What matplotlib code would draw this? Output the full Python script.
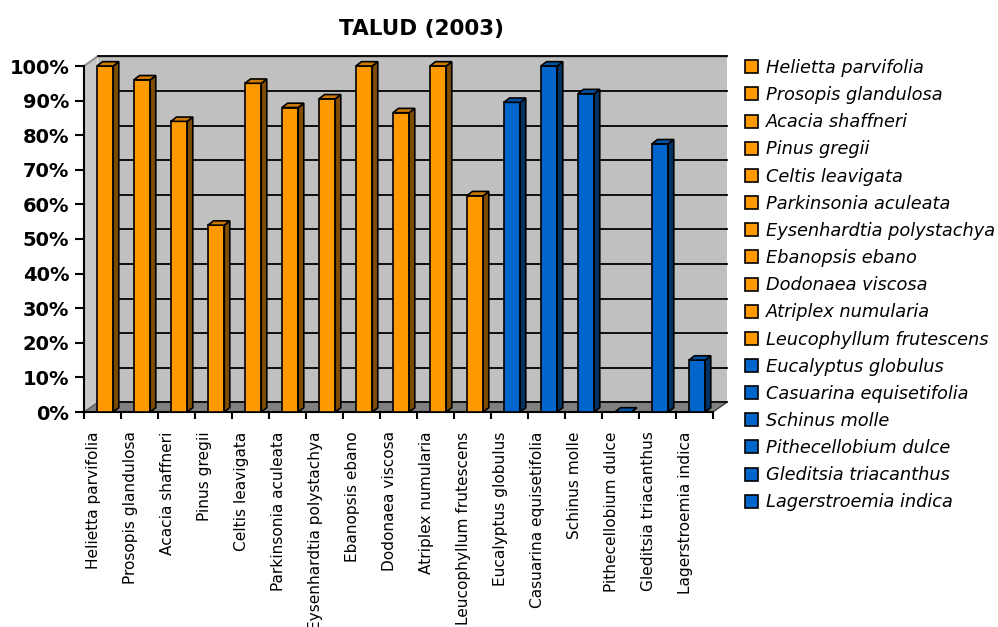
import numpy as np
import matplotlib.pyplot as plt
from matplotlib.patches import Polygon, Patch

# species and survival (%) on the slope plots
species = ['Helietta parvifolia', 'Prosopis glandulosa', 'Acacia shaffneri',
           'Pinus gregii', 'Celtis leavigata', 'Parkinsonia aculeata',
           'Eysenhardtia polystachya', 'Ebanopsis ebano', 'Dodonaea viscosa',
           'Atriplex numularia', 'Leucophyllum frutescens', 'Eucalyptus globulus',
           'Casuarina equisetifolia', 'Schinus molle', 'Pithecellobium dulce',
           'Gleditsia triacanthus', 'Lagerstroemia indica']
survival = [100, 96, 84, 54, 95, 88, 90.5, 100, 86.5, 100, 62.5,
            89.5, 100, 92, 0, 77.5, 15]
groups = ['native'] * 11 + ['exotic'] * 6

colors = {'native': ('#FF9900', '#7F4C00', '#CC7A00'),
          'exotic': ('#0066CC', '#003366', '#0052A3')}

fig = plt.figure(figsize=(9.98, 6.27), dpi=100)
ax = fig.add_axes([84 / 998, 1 - 412 / 627, 629 / 998, 346 / 627])

n = len(species)
x = np.arange(n)
vals = np.array(survival) / 100.0

# fake 3D depth of the walls and bars (in data units)
wdx, wdy = 0.365, 0.0275
bdx, bdy = 0.15, 0.0125
x0, x1 = -0.5, n - 0.5

# back wall, side wall, floor
ax.add_patch(Polygon([(x0 + wdx, wdy), (x1 + wdx, wdy), (x1 + wdx, 1 + wdy), (x0 + wdx, 1 + wdy)],
                     closed=True, facecolor='#C0C0C0', edgecolor='none', zorder=0, clip_on=False))
ax.add_patch(Polygon([(x0, 0), (x0 + wdx, wdy), (x0 + wdx, 1 + wdy), (x0, 1)],
                     closed=True, facecolor='#C8C8C8', edgecolor='none', zorder=0, clip_on=False))
ax.add_patch(Polygon([(x0, 0), (x1, 0), (x1 + wdx, wdy), (x0 + wdx, wdy)],
                     closed=True, facecolor='#808080', edgecolor='none', zorder=0.5, clip_on=False))
ax.plot([x0, x0 + wdx, x1 + wdx], [1, 1 + wdy, 1 + wdy], color='#909090', lw=1.5,
        zorder=0.6, clip_on=False)
ax.plot([x1, x1 + wdx], [0, wdy], color='#404040', lw=1.0, zorder=0.6, clip_on=False)
ax.plot([x0, x0 + wdx], [0, wdy], color='#606060', lw=1.0, zorder=0.6, clip_on=False)

# gridlines on the back wall
for g in np.arange(0, 1.01, 0.1):
    ax.plot([x0 + wdx, x1 + wdx], [g + wdy, g + wdy], color='black', lw=1.3,
            zorder=1, clip_on=False)

# bars: front face, side face, top face
bx = x + 0.07
bw = 0.44
for xi, v, grp in zip(bx, vals, groups):
    front, side, top = colors[grp]
    l, r = xi - bw / 2, xi + bw / 2
    ax.bar(xi, v, width=bw, color=front, edgecolor='black', lw=1.2, zorder=3, clip_on=False)
    ax.add_patch(Polygon([(r, 0), (r + bdx, bdy), (r + bdx, v + bdy), (r, v)],
                         closed=True, facecolor=side, edgecolor='black', lw=1.2,
                         zorder=3, clip_on=False))
    ax.add_patch(Polygon([(l, v), (r, v), (r + bdx, v + bdy), (l + bdx, v + bdy)],
                         closed=True, facecolor=top, edgecolor='black', lw=1.2,
                         zorder=3, clip_on=False))

ax.set_xlim(x0, x1)
ax.set_ylim(0, 1)
ax.set_facecolor('none')
for s in ['top', 'right']:
    ax.spines[s].set_visible(False)
ax.spines['left'].set_linewidth(1.5)
ax.spines['bottom'].set_linewidth(1.5)

yt = np.arange(0, 1.01, 0.1)
ax.set_yticks(yt)
ax.set_yticklabels([f'{int(round(t * 100))}%' for t in yt], fontsize=14, fontweight='bold')
ax.tick_params(axis='y', length=6.5, width=1.5, pad=4)

ax.set_xticks(np.arange(n + 1) - 0.5)
ax.set_xticklabels([])
ax.tick_params(axis='x', which='major', length=5, width=1.5)
ax.set_xticks(x - 0.25, minor=True)
ax.set_xticklabels(species, minor=True, rotation=90, fontsize=11.1, va='top', ha='center')
ax.tick_params(axis='x', which='minor', length=0, pad=14)

fig.text(0.422, 0.953, 'TALUD (2003)', ha='center', va='center', fontsize=15.5, fontweight='bold')

handles = [Patch(facecolor=colors[g][0], edgecolor='black', lw=1.2) for g in groups]
leg = fig.legend(handles, species, loc='upper left', bbox_to_anchor=(745 / 998, 1 - 59 / 627),
                 frameon=False, prop={'style': 'italic', 'size': 12.8},
                 handlelength=0.75, handleheight=0.75, handletextpad=0.45,
                 labelspacing=0.515, borderaxespad=0, borderpad=0)

fig.savefig('out.png', dpi=100)
